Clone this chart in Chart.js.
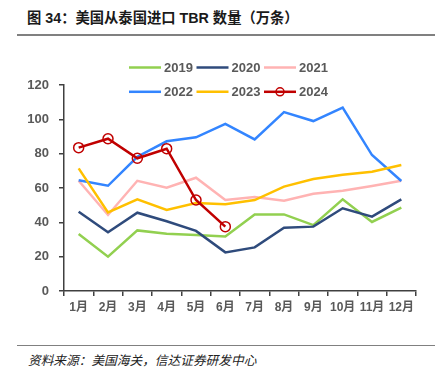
<!DOCTYPE html>
<html><head><meta charset="utf-8">
<script src="https://cdn.jsdelivr.net/npm/chart.js@4.4.0/dist/chart.umd.min.js"></script>
<style>
html,body{margin:0;padding:0;background:#fff;width:440px;height:379px;overflow:hidden;}
#title{position:absolute;left:27px;top:6px;font:bold 14.3px "Liberation Sans","Noto Sans CJK SC",sans-serif;color:#1a1a1a;white-space:nowrap;text-spacing-trim:space-all;}
#tline{position:absolute;left:17px;top:34px;width:418px;height:2px;background:#808080;}
#fline{position:absolute;left:17px;top:345px;width:418px;height:1px;background:#808080;}
#foot{position:absolute;left:28px;top:350px;font:italic 12.7px "Noto Sans CJK SC",sans-serif;color:#222;white-space:nowrap;}
#wrap{position:absolute;left:0;top:40px;width:440px;height:290px;}
</style></head>
<body>
<div id="title">图 34：美国从泰国进口 TBR 数量（万条）</div>
<div id="tline"></div>
<div id="wrap"><canvas id="c" width="440" height="290"></canvas></div>
<div id="fline"></div>
<div id="foot">资料来源：美国海关，信达证券研发中心</div>
<script>
const months = ['1月','2月','3月','4月','5月','6月','7月','8月','9月','10月','11月','12月'];
const yTicks = [0,20,40,60,80,100,120];
const seriesNames = ['2019','2020','2021','2022','2023','2024'];
const v2019 = [33.2,20.0,35.3,33.4,32.6,31.8,44.5,44.6,38.4,53.4,40.2,48.5];
const v2020 = [46.2,34.2,45.6,40.6,35.0,22.5,25.4,36.9,37.5,48.2,43.3,53.4];
const v2021 = [64.2,44.3,64.2,60.2,66.0,53.0,54.7,52.6,56.7,58.4,61.2,64.2];
const v2022 = [64.5,61.3,78.2,87.2,89.5,97.4,88.3,104.2,99.0,106.8,79.2,64.1];
const v2023 = [71.4,45.8,53.4,47.2,51.2,50.5,53.0,60.8,65.2,67.7,69.5,73.4];
const v2024 = [83.5,88.7,77.3,82.9,53.0,37.5];
const colors = ['#92D050','#2F4B7C','#FFB3B3','#3385FF','#FFC000','#C00000'];
const values = [v2019,v2020,v2021,v2022,v2023,v2024];

const datasets = seriesNames.map((n,i)=>({
  label:n, data:values[i], borderColor:colors[i], backgroundColor:colors[i],
  borderWidth:2.5, tension:0, order:5-i,
  pointRadius: i===5?5:0, pointBorderWidth:1.5, pointBackgroundColor:'rgba(0,0,0,0)',
  pointBorderColor:colors[i]
}));

const legendPlugin = {
  id:'customLegend',
  afterDraw(chart){
    const ctx = chart.ctx;
    ctx.save();
    ctx.font = 'bold 13px "Liberation Sans", Arial, sans-serif';
    ctx.textBaseline = 'middle';
    chart.data.datasets.forEach((ds,i)=>{
      const col = i%3, row = Math.floor(i/3);
      const x0 = 129 + col*67.5, y = 27.5 + row*24.3;
      ctx.strokeStyle = ds.borderColor; ctx.lineWidth = 2.5;
      ctx.beginPath(); ctx.moveTo(x0,y); ctx.lineTo(x0+32,y); ctx.stroke();
      if (ds.pointRadius>0){
        ctx.lineWidth=1.5; ctx.beginPath(); ctx.arc(x0+16,y,4,0,Math.PI*2); ctx.stroke();
      }
      ctx.fillStyle = '#595959';
      ctx.fillText(ds.label, x0+35, y+0.5);
    });
    ctx.restore();
  }
};

new Chart(document.getElementById('c'),{
  type:'line',
  data:{labels:months, datasets},
  plugins:[legendPlugin],
  options:{
    responsive:false, animation:false,
    layout:{padding:{top:45,right:24,bottom:9,left:0}},
    plugins:{legend:{display:false},tooltip:{enabled:false}},
    scales:{
      x:{
        offset:true,
        grid:{display:true,drawOnChartArea:false,offset:true,tickLength:5,color:'#404040',lineWidth:1.5},
        border:{display:true,color:'#404040',width:1.5},
        ticks:{color:'#595959',font:{size:12,weight:'bold',family:'"Liberation Sans", "Noto Sans CJK SC", sans-serif'},padding:4,maxRotation:0,autoSkip:false},
        afterFit(s){ s.height = 30; }
      },
      y:{
        min:0,max:120,
        afterBuildTicks(s){ s.ticks = yTicks.map(v=>({value:v})); },
        grid:{display:true,drawOnChartArea:false,tickLength:5,color:'#404040',lineWidth:1.5},
        border:{display:true,color:'#404040',width:1.5},
        ticks:{color:'#595959',font:{size:13,weight:'bold',family:'"Liberation Sans", Arial, sans-serif'},padding:10},
        afterFit(s){ s.width = 64; }
      }
    }
  }
});
</script>
</body></html>
